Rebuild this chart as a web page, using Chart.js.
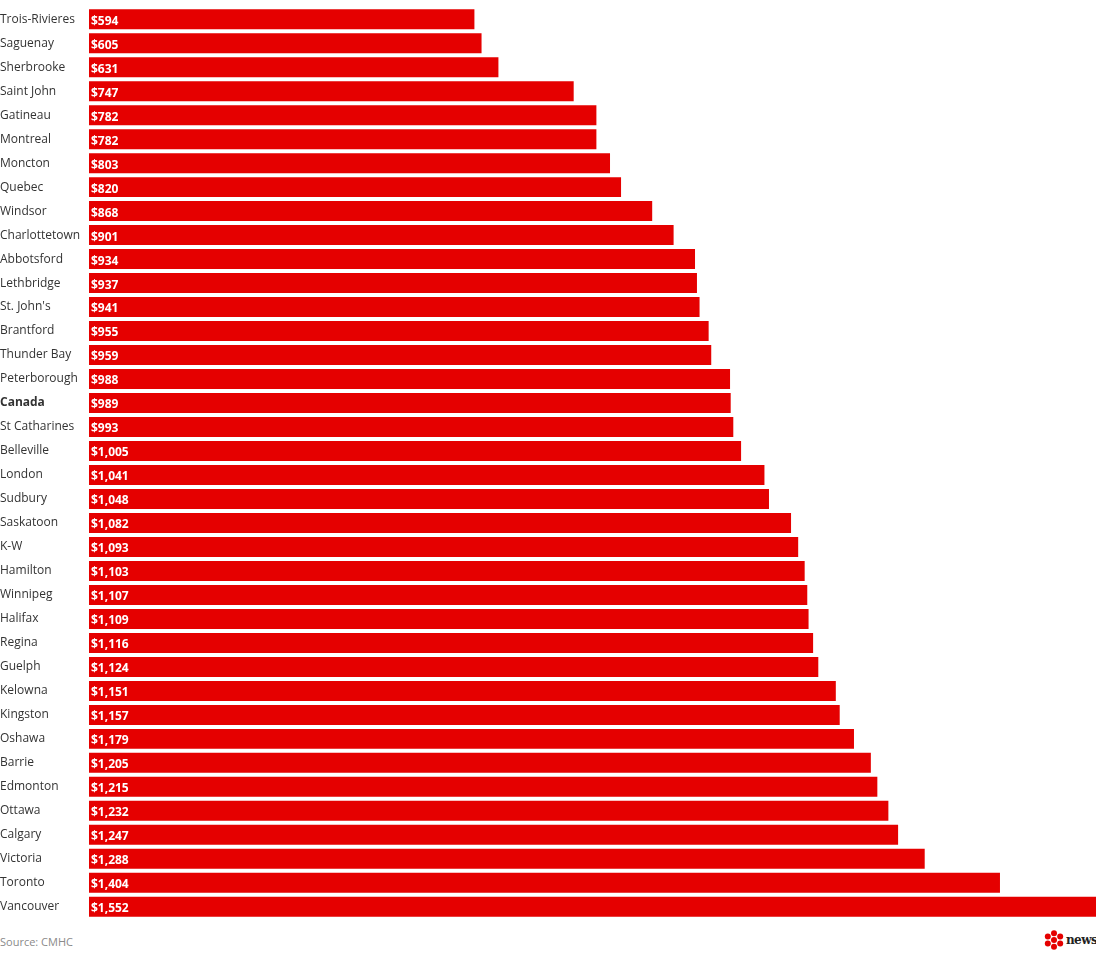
<!DOCTYPE html>
<html>
<head>
<meta charset="utf-8">
<script src="https://cdn.jsdelivr.net/npm/chart.js@4"></script>
<style>
  html, body { margin: 0; padding: 0; background: #fff; }
  body { width: 1096px; height: 953px; position: relative; overflow: hidden; font-family: "Open Sans", sans-serif; }
  #wrap { position: absolute; left: 0; top: 0; width: 1096px; height: 926px; }
  #source { position: absolute; left: 0; top: 934px; font-size: 11px; color: #8a8a8a; }
  #logo { position: absolute; left: 1043px; top: 930px; height: 20px; display: flex; align-items: center; }
  #logo span { font-family: "DejaVu Serif", serif; font-weight: bold; font-size: 12px; color: #222; margin-left: 1px; letter-spacing: -0.6px; }
</style>
</head>
<body>
<div id="wrap"><canvas id="chart"></canvas></div>
<div id="source">Source: CMHC</div>
<div id="logo">
  <svg width="22" height="20" viewBox="0 0 22 20">
    <circle cx="11" cy="10" r="3" fill="#e50000"/>
    <circle cx="11" cy="3.2" r="3" fill="#e50000"/>
    <circle cx="11" cy="16.8" r="3" fill="#e50000"/>
    <circle cx="4.8" cy="6.6" r="3" fill="#e50000"/>
    <circle cx="17.2" cy="6.6" r="3" fill="#e50000"/>
    <circle cx="4.8" cy="13.4" r="3" fill="#e50000"/>
    <circle cx="17.2" cy="13.4" r="3" fill="#e50000"/>
  </svg>
  <span>news</span>
</div>
<script>
// 城市 / 平均租金
const cities = [
  "Trois-Rivieres", "Saguenay", "Sherbrooke", "Saint John", "Gatineau", "Montreal",
  "Moncton", "Quebec", "Windsor", "Charlottetown", "Abbotsford", "Lethbridge",
  "St. John's", "Brantford", "Thunder Bay", "Peterborough", "Canada", "St Catharines",
  "Belleville", "London", "Sudbury", "Saskatoon", "K-W", "Hamilton", "Winnipeg",
  "Halifax", "Regina", "Guelph", "Kelowna", "Kingston", "Oshawa", "Barrie",
  "Edmonton", "Ottawa", "Calgary", "Victoria", "Toronto", "Vancouver"
];
const rents = [
  594, 605, 631, 747, 782, 782,
  803, 820, 868, 901, 934, 937,
  941, 955, 959, 988, 989, 993,
  1005, 1041, 1048, 1082, 1093, 1103, 1107,
  1109, 1116, 1124, 1151, 1157, 1179, 1205,
  1215, 1232, 1247, 1288, 1404, 1552
];
const BOLD_LABEL = "Canada";
const BAR_RED = "#e50000";

// draws "$1,234" inside each bar
const valueLabels = {
  id: "valueLabels",
  afterDatasetsDraw(chart) {
    const ctx = chart.ctx;
    const meta = chart.getDatasetMeta(0);
    ctx.save();
    ctx.fillStyle = "#fff";
    ctx.font = "bold 12px 'Open Sans', sans-serif";
    ctx.textAlign = "left";
    ctx.textBaseline = "middle";
    meta.data.forEach((bar, i) => {
      ctx.fillText("$" + rents[i].toLocaleString("en-US"), bar.base + 2, bar.y + 2);
    });
    ctx.restore();
  }
};

new Chart(document.getElementById("chart"), {
  type: "bar",
  data: {
    labels: cities,
    datasets: [{
      data: rents,
      backgroundColor: BAR_RED,
      borderWidth: 0,
      categoryPercentage: 1,
      barPercentage: 20 / 24
    }]
  },
  options: {
    indexAxis: "y",
    responsive: true,
    maintainAspectRatio: false,
    animation: false,
    layout: { padding: { top: 7, bottom: 7, left: 0, right: 0 } },
    plugins: { legend: { display: false }, tooltip: { enabled: false } },
    scales: {
      x: { display: false, min: 0, max: 1552 },
      y: {
        grid: { display: false },
        border: { display: false },
        afterFit(scale) { scale.width = 89; },
        ticks: {
          crossAlign: "far",
          padding: 0,
          color: "#333",
          font: (c) => ({
            family: "'Open Sans', sans-serif",
            size: 12,
            weight: cities[c.index] === BOLD_LABEL ? "bold" : "normal"
          })
        }
      }
    }
  },
  plugins: [valueLabels]
});
</script>
</body>
</html>
